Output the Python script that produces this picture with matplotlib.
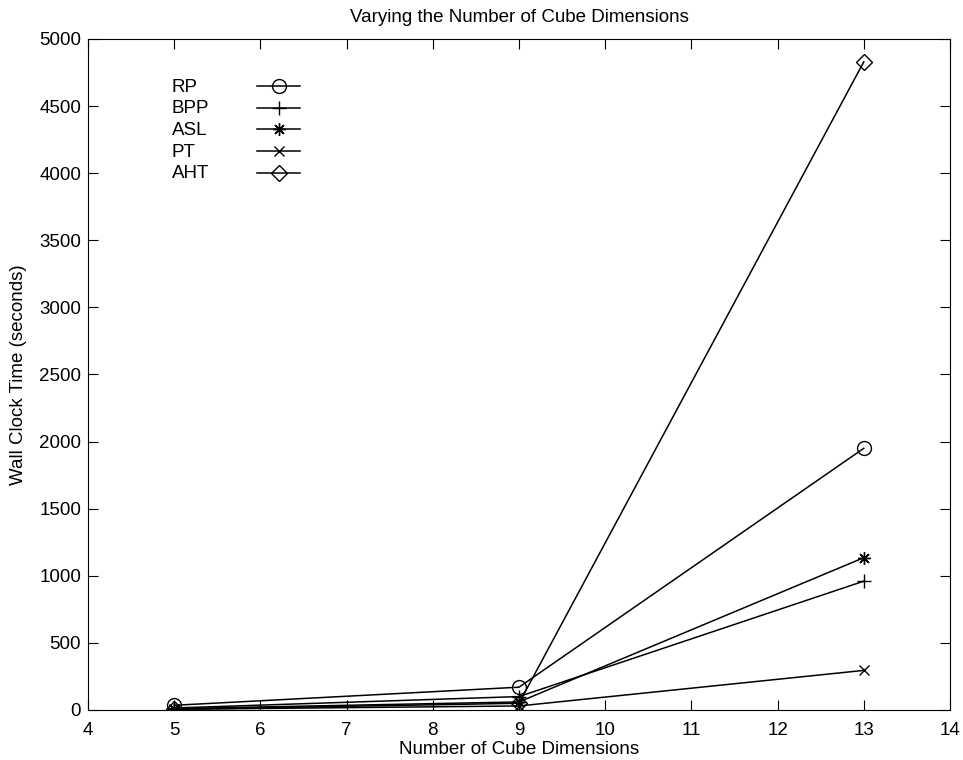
import matplotlib
matplotlib.use("Agg")
import matplotlib.pyplot as plt

plt.rcParams['font.family'] = ['Liberation Sans', 'DejaVu Sans']

dims = [5, 9, 13]
rp = [35, 170, 1950]
bpp = [15, 100, 960]
asl = [10, 60, 1135]
pt = [5, 30, 295]
aht = [5, 50, 4830]

series = [("RP", rp, "o", 10), ("BPP", bpp, "+", 10), ("ASL", asl, (8, 2, 0), 9),
          ("PT", pt, "x", 7), ("AHT", aht, "D", 8)]

FS = 13.5
fig = plt.figure(figsize=(9.63, 7.6), dpi=100)
ax = fig.add_axes([0.0914, 0.0658, 0.8951, 0.8829])

for name, vals, mk, ms in series:
    ax.plot(dims, vals, color='black', linewidth=1.1, marker=mk, markersize=ms,
            markerfacecolor='none', markeredgecolor='black', markeredgewidth=1.0,
            label=name)

ax.set_xlim(4, 14)
ax.set_ylim(0, 5000)
ax.set_xticks(range(4, 15))
ax.set_yticks(range(0, 5001, 500))
ax.tick_params(direction='in', top=True, right=True, length=7, labelsize=FS)
ax.tick_params(axis='x', pad=9)
ax.tick_params(axis='y', pad=5)
ax.set_xlabel("Number of Cube Dimensions", fontsize=FS, labelpad=1)
ax.set_ylabel("Wall Clock Time (seconds)", fontsize=FS, labelpad=9)
ax.set_title("Varying the Number of Cube Dimensions", fontsize=FS, pad=12)

# MATLAB-style legend: label on the left, line sample with marker on the right
y0, dy = 0.930, 0.0323
for i, (name, vals, mk, ms) in enumerate(series):
    y = y0 - i * dy
    ax.text(0.0974, y - 0.002, name, transform=ax.transAxes, fontsize=FS,
            va='center', ha='left')
    ax.plot([0.196, 0.246], [y, y], transform=ax.transAxes, color='black', linewidth=1.1,
            clip_on=False)
    ax.plot([0.221], [y], transform=ax.transAxes, color='black', marker=mk, markersize=ms,
            markerfacecolor='none', markeredgecolor='black', markeredgewidth=1.0,
            linestyle='none', clip_on=False)

fig.savefig("out.png", dpi=100)
